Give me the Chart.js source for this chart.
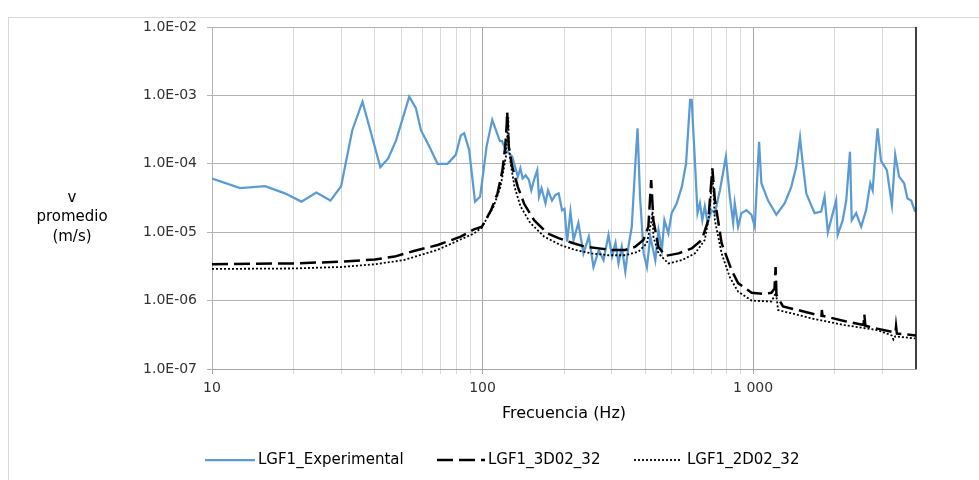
<!DOCTYPE html>
<html>
<head>
<meta charset="utf-8">
<script src="https://cdn.jsdelivr.net/npm/chart.js@4/dist/chart.umd.min.js"></script>
<style>
html,body{margin:0;padding:0;background:#fff;}
#wrap{position:relative;width:979px;height:480px;}
</style>
</head>
<body>
<div id="wrap"><canvas id="chart" width="979" height="480"></canvas></div>
<script>
/* =========================
   DATOS
========================= */

// LGF1_Experimental
let expFreq = [10, 12.7, 15.7, 18.6, 21.4, 24.3, 27.4, 30, 33, 36, 41.9, 44.8, 47.9, 53.6, 56.7, 59.2, 63.5, 68.2, 74.2, 79.6,
  83.1, 85.5, 89.2, 93.8, 97.9, 99.8, 103.5, 108.6, 115.9, 118, 121.7, 128.7, 135, 138, 140.7, 144.3, 148.4, 151.4, 154.9, 159.3,
  161.6, 165.2, 170.8, 174.6, 180.6, 185.9, 191.2, 196.7, 200.9, 205.3, 211.3, 217, 226, 236, 247, 257, 269, 280, 292, 301,
  310, 318, 327, 337, 346, 356, 367, 374, 382, 394, 405, 417, 435, 447, 460, 470, 486, 500, 522, 545,
  565, 585, 593, 610, 623, 636, 649, 663, 679, 702, 722, 754, 793, 820, 844, 855, 880, 905, 945, 986,
  1014, 1052, 1073, 1136, 1219, 1309, 1384, 1444, 1491, 1516, 1572, 1687, 1785, 1837, 1889, 1971, 2027, 2054, 2144, 2209,
  2280, 2315, 2404, 2509, 2615, 2711, 2766, 2818, 2884, 2970, 3122, 3258, 3352, 3464, 3616, 3719, 3840, 3970];
let expV = [6.1e-5, 4.4e-5, 4.7e-5, 3.7e-5, 2.8e-5, 3.8e-5, 2.9e-5, 4.7e-5, 3.1e-4, 8.1e-4, 8.9e-5, 1.2e-4, 2.2e-4, 9.6e-4, 6.5e-4, 3.1e-4, 1.8e-4, 1.0e-4, 1.0e-4, 1.35e-4,
  2.6e-4, 2.8e-4, 1.6e-4, 2.8e-5, 3.3e-5, 5.8e-5, 1.8e-4, 4.4e-4, 2.15e-4, 2.15e-4, 1.6e-4, 1.27e-4, 6.5e-5, 8.6e-5, 6.1e-5, 6.8e-5, 5.8e-5, 4.1e-5, 5.8e-5, 8.1e-5,
  3.3e-5, 4.4e-5, 2.65e-5, 4.1e-5, 2.9e-5, 3.5e-5, 3.7e-5, 2.1e-5, 2.2e-5, 7.3e-6, 2.0e-5, 7.7e-6, 1.37e-5, 4.9e-6, 8.6e-6, 3.1e-6, 5.5e-6, 3.9e-6, 9.1e-6, 4.4e-6,
  7.0e-6, 3.5e-6, 6.1e-6, 2.65e-6, 6.1e-6, 1.2e-5, 1.0e-4, 3.3e-4, 3.3e-5, 4.9e-6, 3.1e-6, 8.6e-6, 3.9e-6, 1.07e-5, 5.5e-6, 1.5e-5, 9.6e-6, 1.9e-5, 2.65e-5, 4.6e-5,
  1.0e-4, 8.6e-4, 8.6e-4, 1.0e-4, 1.9e-5, 2.65e-5, 1.5e-5, 2.4e-5, 1.37e-5, 2.1e-5, 1.9e-5, 4.1e-5, 1.27e-4, 3.3e-5, 1.37e-5, 2.65e-5, 1.2e-5, 1.9e-5, 2.1e-5, 1.8e-5,
  1.2e-5, 2.1e-4, 5.2e-5, 2.9e-5, 1.8e-5, 2.65e-5, 4.6e-5, 9.1e-5, 2.4e-4, 1.27e-4, 3.7e-5, 1.9e-5, 2.0e-5, 3.3e-5, 1.0e-5, 1.9e-5, 2.9e-5, 9.1e-6, 1.5e-5, 2.9e-5,
  1.5e-4, 1.5e-5, 1.9e-5, 1.2e-5, 2.1e-5, 5.2e-5, 4.1e-5, 1.1e-4, 3.3e-4, 1.1e-4, 8.1e-5, 2.5e-5, 1.35e-4, 6.5e-5, 5.2e-5, 3.1e-5, 2.9e-5, 2.0e-5];

// LGF1_3D02_32
let d3Freq = [10, 20, 30, 40, 47.3, 55.7, 68.3, 83, 93, 99.4, 107.5, 113.6, 118.5, 121.3, 122.9, 123.3, 125, 128.7, 135, 142.5,
  155, 174, 191, 214, 240, 269, 301, 337, 366, 393, 410, 420, 428, 447, 473, 530, 593, 646, 683, 707,
  722, 765, 832, 880, 988, 1100, 1169, 1200, 1211, 1220, 1290, 1500, 1687, 1790, 1795, 1805, 2190, 2560, 2577, 2600,
  2785, 3360, 3376, 3400, 3720, 4000];
let d3V = [3.4e-6, 3.5e-6, 3.7e-6, 4.0e-6, 4.4e-6, 5.3e-6, 6.5e-6, 8.6e-6, 1.1e-5, 1.2e-5, 2.1e-5, 3.7e-5, 8.1e-5, 1.8e-4, 3.9e-4, 5.8e-4, 1.78e-4, 9.1e-5, 4.6e-5, 2.6e-5,
  1.5e-5, 9.6e-6, 8.2e-6, 7.0e-6, 6.1e-6, 5.8e-6, 5.5e-6, 5.5e-6, 6.1e-6, 7.7e-6, 1.2e-5, 5.8e-5, 1.5e-5, 6.1e-6, 4.5e-6, 4.9e-6, 5.8e-6, 7.7e-6, 1.5e-5, 8.6e-5,
  3.0e-5, 6.9e-6, 2.8e-6, 1.8e-6, 1.3e-6, 1.25e-6, 1.3e-6, 1.5e-6, 3.1e-6, 1.2e-6, 8.2e-7, 7.1e-7, 6.3e-7, 6.0e-7, 7.3e-7, 6.0e-7, 5.0e-7, 4.4e-7, 6.3e-7, 4.3e-7,
  4.0e-7, 3.4e-7, 4.2e-7, 3.3e-7, 3.2e-7, 3.1e-7];

// LGF1_2D02_32
let d2Freq = [10, 20, 30, 40, 51, 68, 93, 99, 110, 116.5, 122, 124, 124.5, 125, 127, 131.3, 138, 150, 169, 194,
  220, 253, 292, 337, 377, 405, 420, 425, 428, 447, 486, 545, 610, 663, 690, 708, 722, 765, 820, 880,
  988, 1169, 1215, 1237, 1640, 2165, 2884, 3250, 3300, 3350, 3970];
let d2V = [2.9e-6, 2.95e-6, 3.1e-6, 3.4e-6, 3.9e-6, 5.5e-6, 9.6e-6, 1.15e-5, 2.4e-5, 4.6e-5, 1.27e-4, 3.5e-4, 4.8e-4, 2.0e-4, 1.0e-4, 4.6e-5, 2.4e-5, 1.37e-5, 8.6e-6, 6.5e-6,
  5.5e-6, 4.9e-6, 4.6e-6, 4.6e-6, 5.2e-6, 6.9e-6, 1.4e-5, 2.0e-5, 8.6e-6, 4.9e-6, 3.5e-6, 3.9e-6, 4.9e-6, 7.7e-6, 1.9e-5, 7.5e-5, 1.5e-5, 4.9e-6, 2.2e-6, 1.35e-6,
  1.0e-6, 9.7e-7, 1.3e-6, 7.3e-7, 5.5e-7, 4.4e-7, 3.7e-7, 3.1e-7, 2.7e-7, 3.0e-7, 2.8e-7];

let seriesNames = ["LGF1_Experimental", "LGF1_3D02_32", "LGF1_2D02_32"];

/* ticks */
let xTicks = [10, 20, 30, 40, 50, 60, 70, 80, 90, 100, 200, 300, 400, 500, 600, 700, 800, 900, 1000, 2000, 3000];
let xMajor = [10, 100, 1000];
let xLabels = {10: "10", 100: "100", 1000: "1 000"};
let yTicks = [1e-7, 1e-6, 1e-5, 1e-4, 1e-3, 1e-2];
let yTitle = ["v", "promedio", "(m/s)"];
let xTitle = "Frecuencia (Hz)";

/* =========================
   HELPERS
========================= */

const pts = (xs, ys) => xs.map((x, i) => ({x: x, y: ys[i]}));

const fmtExp = v => {
  let e = Math.round(Math.log10(v));
  let s = Math.abs(e) < 10 ? "0" + Math.abs(e) : "" + Math.abs(e);
  return "1.0E" + (e < 0 ? "-" : "+") + s;
};

/* marco, titulo Y, borde derecho y leyenda */
const decor = {
  id: "decor",
  beforeDraw(chart) {
    const c = chart.ctx;
    c.save();
    c.fillStyle = "#fff";
    c.fillRect(0, 0, chart.width, chart.height);
    c.strokeStyle = "#d9d9d9";
    c.lineWidth = 1;
    c.strokeRect(8.5, 17.5, 990, 480);
    c.restore();
  },
  afterDraw(chart) {
    const c = chart.ctx, a = chart.chartArea;
    c.save();
    c.strokeStyle = "#000";
    c.lineWidth = 1.5;
    c.beginPath();
    c.moveTo(a.right, a.top);
    c.lineTo(a.right, a.bottom);
    c.stroke();

    c.fillStyle = "#000";
    c.font = '15px "DejaVu Sans"';
    c.textAlign = "center";
    c.textBaseline = "middle";
    yTitle.forEach((t, i) => c.fillText(t, 72, 198 + i * 19.5));

    // leyenda
    const pos = [[205, 255, 258], [437, 485, 488], [634, 680, 687]];
    const ly = 460;
    c.font = '15px "DejaVu Sans"';
    c.textAlign = "left";
    chart.data.datasets.forEach((ds, i) => {
      const p = pos[i];
      c.strokeStyle = ds.borderColor;
      c.lineWidth = ds.borderWidth;
      c.setLineDash(ds.borderDash || []);
      c.beginPath();
      c.moveTo(p[0], ly);
      c.lineTo(p[1], ly);
      c.stroke();
      c.setLineDash([]);
      c.fillStyle = "#000";
      c.fillText(ds.label, p[2], ly);
    });
    c.restore();
  }
};

/* =========================
   CHART
========================= */

Chart.defaults.font.family = '"DejaVu Sans", sans-serif';
Chart.defaults.font.size = 14;
Chart.defaults.color = "#333";

new Chart(document.getElementById("chart"), {
type: "line",
data: {
datasets: [{
  label: seriesNames[0],
  data: pts(expFreq, expV),
  borderColor: "#5B9BD5",
  borderWidth: 2.25,
  order: 3
}, {
  label: seriesNames[1],
  data: pts(d3Freq, d3V),
  borderColor: "#000",
  borderWidth: 2.5,
  borderDash: [16, 6],
  order: 2
}, {
  label: seriesNames[2],
  data: pts(d2Freq, d2V),
  borderColor: "#000",
  borderWidth: 1.8,
  borderDash: [2, 2],
  order: 1
}]
},
options: {
  responsive: false,
  animation: false,
  devicePixelRatio: 1,
  layout: {padding: {left: 132, right: 63, top: 27, bottom: 51}},
  elements: {point: {radius: 0}, line: {tension: 0}},
  plugins: {legend: {display: false}, tooltip: {enabled: false}},
  scales: {
    x: {
      type: "logarithmic",
      min: 10,
      max: 4000,
      afterBuildTicks: s => { s.ticks = xTicks.map(v => ({value: v})); },
      afterFit: s => { s.height = 60; },
      ticks: {autoSkip: false, maxRotation: 0, padding: 6, callback: v => xLabels[v] || ""},
      grid: {
        tickLength: 5,
        color: ctx => xMajor.includes(ctx.tick && ctx.tick.value) ? "#a6a6a6" : "#d9d9d9"
      },
      border: {color: "#a6a6a6"},
      title: {display: true, text: xTitle, color: "#000", font: {size: 16}, padding: {top: 0, bottom: 6}}
    },
    y: {
      type: "logarithmic",
      min: 1e-7,
      max: 1e-2,
      afterBuildTicks: s => { s.ticks = yTicks.map(v => ({value: v})); },
      afterFit: s => { s.width = 80; },
      ticks: {padding: 10, callback: v => fmtExp(v)},
      grid: {tickLength: 5, color: "#b3b3b3"},
      border: {color: "#b3b3b3"}
    }
  }
},
plugins: [decor]
});
</script>
</body>
</html>
